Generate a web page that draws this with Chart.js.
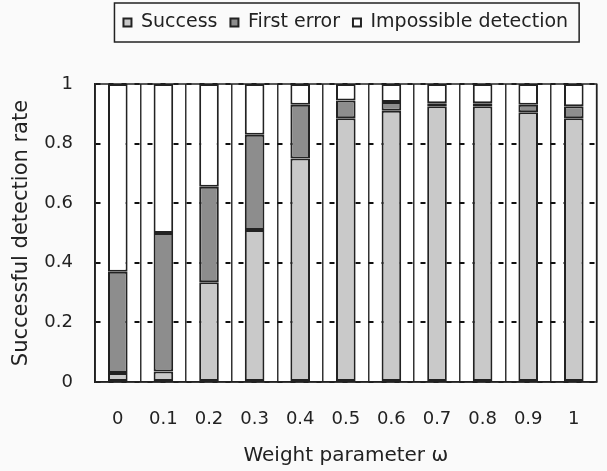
<!DOCTYPE html>
<html>
<head>
<meta charset="utf-8">
<script src="https://cdn.jsdelivr.net/npm/chart.js@4.4.0/dist/chart.umd.min.js"></script>
<style>
  html, body { margin: 0; padding: 0; background: #fafafa; }
  #wrap { width: 607px; height: 471px; }
</style>
</head>
<body>
<div id="wrap"><canvas id="chart" width="607" height="471"></canvas></div>
<script>
// Data
const weights = ['0', '0.1', '0.2', '0.3', '0.4', '0.5', '0.6', '0.7', '0.8', '0.9', '1'];
const success = [0.03, 0.035, 0.335, 0.51, 0.75, 0.885, 0.91, 0.925, 0.925, 0.905, 0.885];
const firstError = [0.34, 0.465, 0.32, 0.32, 0.18, 0.06, 0.03, 0.01, 0.01, 0.025, 0.04];
const impossible = [0.63, 0.5, 0.345, 0.17, 0.07, 0.055, 0.06, 0.065, 0.065, 0.07, 0.075];
const yTicks = [0, 0.2, 0.4, 0.6, 0.8, 1];

const FONT = "'DejaVu Sans', sans-serif";
const INK = '#222';

// Extra room under the legend + frame around legend and plot
const framePlugin = {
    id: 'frame',
    beforeInit(chart) {
        const fit = chart.legend.fit;
        chart.legend.fit = function() {
            fit.bind(chart.legend)();
            this.height += 42;
        };
    },
    beforeDraw(chart) {
        const { ctx, chartArea: a } = chart;
        ctx.save();
        ctx.fillStyle = '#fff';
        ctx.fillRect(a.left, a.top, a.right - a.left, a.bottom - a.top);
        ctx.restore();
    },
    afterDraw(chart) {
        const { ctx, chartArea: a } = chart;
        ctx.save();
        ctx.strokeStyle = INK;
        ctx.lineWidth = 1.5;
        ctx.strokeRect(a.left, a.top, a.right - a.left, a.bottom - a.top);

        // legend frame
        const hb = chart.legend.legendHitBoxes;
        if (hb && hb.length) {
            const first = hb[0], last = hb[hb.length - 1];
            const cy = first.top + first.height / 2;
            ctx.lineWidth = 1.5;
            ctx.strokeRect(first.left - 9, cy - 19.5, last.left + last.width + 11 - (first.left - 9), 39);
        }
        ctx.restore();
    }
};

const ctx = document.getElementById('chart').getContext('2d');
new Chart(ctx, {
    type: 'bar',
    data: {
        labels: weights,
        datasets: [
            {
                label: 'Success',
                data: success,
                backgroundColor: '#c9c9c9',
                borderColor: INK,
                borderWidth: 2,
                borderSkipped: false
            },
            {
                label: 'First error',
                data: firstError,
                backgroundColor: '#8d8d8d',
                borderColor: INK,
                borderWidth: 2,
                borderSkipped: false
            },
            {
                label: 'Impossible detection',
                data: impossible,
                backgroundColor: '#ffffff',
                borderColor: INK,
                borderWidth: 2,
                borderSkipped: false
            }
        ]
    },
    options: {
        responsive: false,
        animation: false,
        devicePixelRatio: 1,
        layout: {
            padding: { left: 0, right: 9, top: 0, bottom: 0 }
        },
        datasets: {
            bar: {
                barPercentage: 0.43,
                categoryPercentage: 1
            }
        },
        plugins: {
            legend: {
                position: 'top',
                fullSize: false,
                labels: {
                    color: INK,
                    font: { family: FONT, size: 19 },
                    boxWidth: 8,
                    boxHeight: 8,
                    padding: 13
                }
            },
            tooltip: { enabled: false }
        },
        scales: {
            x: {
                stacked: true,
                grid: {
                    offset: true,
                    color: '#333',
                    lineWidth: 1.5,
                    drawTicks: false
                },
                border: { display: true, color: INK, width: 1.5 },
                ticks: {
                    color: INK,
                    font: { family: FONT, size: 18 },
                    padding: 27,
                    maxRotation: 0
                },
                title: {
                    display: true,
                    text: 'Weight parameter ω',
                    color: INK,
                    font: { family: FONT, size: 20 },
                    padding: { top: 0, bottom: 3 }
                },
                afterFit(scale) {
                    scale.height = 89;
                }
            },
            y: {
                stacked: true,
                min: 0,
                max: 1,
                afterBuildTicks(scale) {
                    scale.ticks = yTicks.map(v => ({ value: v }));
                },
                grid: {
                    color: '#111',
                    lineWidth: 2,
                    drawTicks: false
                },
                border: { display: true, color: INK, width: 1.5, dash: [5, 8] },
                ticks: {
                    color: INK,
                    font: { family: FONT, size: 18 },
                    padding: 22,
                    callback: v => String(+v.toFixed(1))
                },
                title: {
                    display: true,
                    text: 'Successful detection rate',
                    color: INK,
                    font: { family: FONT, size: 21 },
                    padding: { top: 9, bottom: 0 }
                },
                afterFit(scale) {
                    scale.width = 95;
                }
            }
        }
    },
    plugins: [framePlugin]
});
</script>
</body>
</html>
